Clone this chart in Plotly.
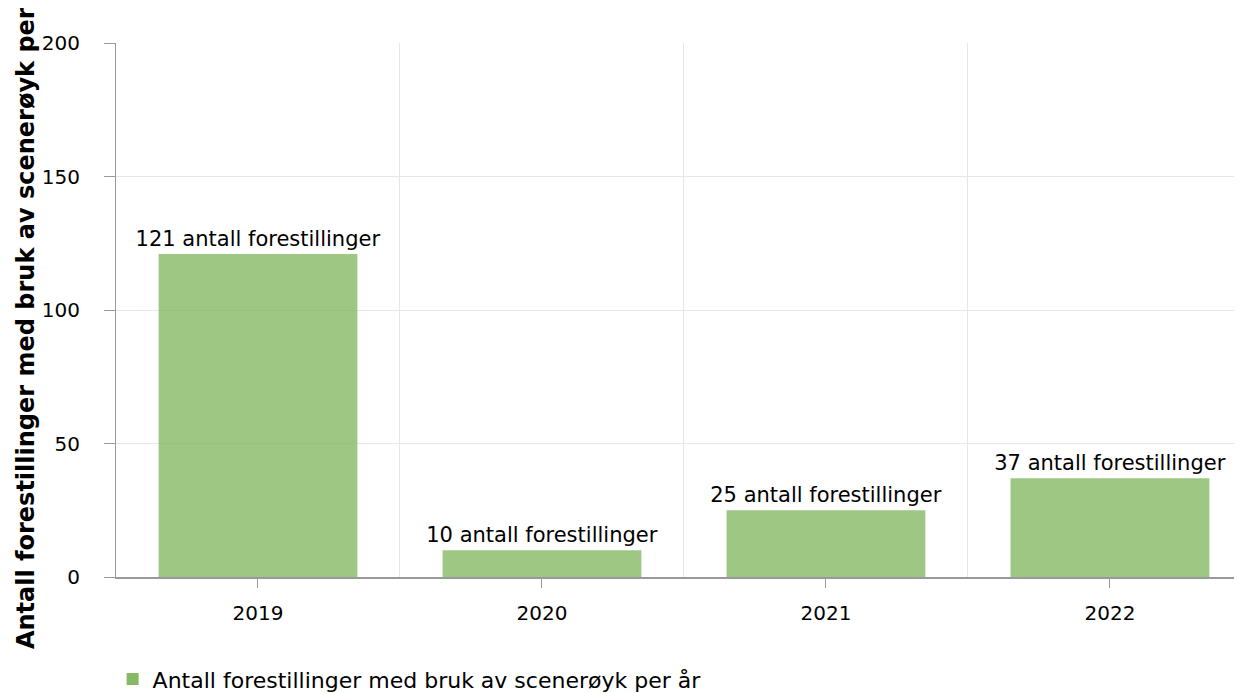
import plotly.graph_objects as go

years = [2019, 2020, 2021, 2022]
values = [121, 10, 25, 37]
labels = [f"{v} antall forestillinger" for v in values]
series_name = "Antall forestillinger med bruk av scenerøyk per år"

FONT = "Verdana, DejaVu Sans, sans-serif"

fig = go.Figure()
fig.add_trace(go.Bar(
    x=years,
    y=values,
    name=series_name,
    text=labels,
    textposition="outside",
    textfont=dict(size=21, color="#000000"),
    constraintext="none",
    cliponaxis=False,
    width=0.7,
    marker=dict(color="#86b964", opacity=0.8, line=dict(width=0)),
    showlegend=True,
))

# page body has an 8px margin, so the figure is a bit smaller than the window
fig.update_layout(
    width=1234,
    height=685,
    margin=dict(l=108, r=0, t=35, b=116, autoexpand=False),
    paper_bgcolor="white",
    plot_bgcolor="white",
    font=dict(family=FONT, size=20, color="#000000"),
    showlegend=True,
    legend=dict(
        orientation="h",
        x=-0.003, xanchor="left",
        yref="container",
        y=0.02, yanchor="middle",
        font=dict(size=22),
    ),
    xaxis=dict(
        range=[2018.5, 2022.465],
        tickvals=years,
        ticktext=[str(y) for y in years],
        ticks="outside",
        ticklen=9,
        tickcolor="#999999",
        ticklabelstandoff=8,
        showline=True,
        linecolor="#999999",
        linewidth=1.5,
        showgrid=False,
        zeroline=False,
        automargin=False,
        minor=dict(tick0=2018.5, dtick=1, showgrid=True, gridcolor="#e6e6e6", ticks=""),
        tickfont=dict(size=20),
    ),
    yaxis=dict(
        range=[0, 200],
        dtick=50,
        ticks="outside",
        ticklen=11,
        tickcolor="#999999",
        ticklabelstandoff=20,
        showline=True,
        linecolor="#999999",
        showgrid=True,
        gridcolor="#e6e6e6",
        zeroline=False,
        automargin=False,
        tickfont=dict(size=20),
        title=dict(text="<b>" + series_name + "</b>", font=dict(size=24), standoff=0),
    ),
)

fig.write_html("out.html")
